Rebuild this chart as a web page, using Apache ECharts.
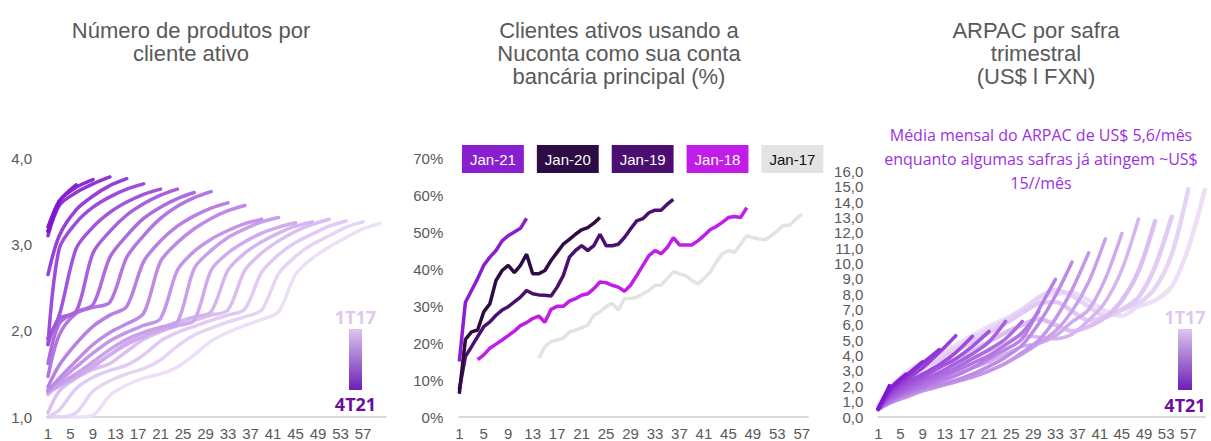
<!DOCTYPE html>
<html><head><meta charset="utf-8">
<script src="https://cdn.jsdelivr.net/npm/echarts@6/dist/echarts.min.js"></script>
<style>html,body{margin:0;padding:0;background:#fff}#c{width:1211px;height:441px}</style>
</head><body><div id="c"></div>
<script>
// ---------- shared ----------
const cohorts = ['1T17','2T17','3T17','4T17','1T18','2T18','3T18','4T18','1T19','2T19','3T19','4T19','1T20','2T20','3T20','4T20','1T21','2T21','3T21','4T21'];
const sampleMonths = [1,3,6,9,12,15,18,21,24,27,30,33,36,39,42,45,48,51,54,57,60];

// ---------- panel 1: products per active client ----------
const prod_1T17 = [1.0,1.0,1.0,1.02,1.25,1.37,1.45,1.5,1.58,1.72,1.88,1.98,2.06,2.13,2.22,2.65,2.84,2.97,3.08,3.18,3.24];
const prod_2T17 = [1.0,1.0,1.05,1.3,1.42,1.5,1.56,1.66,1.82,1.95,2.03,2.1,2.16,2.24,2.66,2.86,3.0,3.1,3.2,3.26];
const prod_3T17 = [1.0,1.08,1.33,1.46,1.54,1.6,1.72,1.88,1.98,2.05,2.12,2.18,2.25,2.68,2.88,3.02,3.12,3.21,3.27];
const prod_4T17 = [1.05,1.3,1.45,1.55,1.62,1.76,1.9,1.99,2.06,2.12,2.18,2.24,2.7,2.9,3.04,3.15,3.23,3.29];
const prod_1T18 = [1.26,1.38,1.5,1.6,1.72,1.86,1.96,2.03,2.1,2.16,2.22,2.7,2.9,3.03,3.13,3.21,3.26];
const prod_2T18 = [1.28,1.36,1.46,1.58,1.72,1.84,1.93,2.0,2.06,2.12,2.7,2.9,3.03,3.13,3.2,3.25];
const prod_3T18 = [1.3,1.38,1.5,1.64,1.78,1.9,1.98,2.04,2.1,2.72,2.93,3.08,3.18,3.26,3.31];
const prod_4T18 = [1.32,1.42,1.58,1.74,1.88,1.98,2.06,2.14,2.7,2.92,3.06,3.16,3.24,3.29];
const prod_1T19 = [1.3,1.45,1.65,1.84,1.98,2.08,2.2,2.8,3.02,3.18,3.3,3.39,3.45];
const prod_2T19 = [1.35,1.6,1.85,2.05,2.18,2.28,2.8,3.04,3.21,3.33,3.42,3.48];
const prod_3T19 = [1.47,1.95,2.2,2.27,2.33,2.85,3.1,3.3,3.44,3.54,3.61];
const prod_4T19 = [1.62,2.08,2.22,2.3,2.85,3.1,3.3,3.43,3.53,3.6];
const prod_1T20 = [1.84,2.14,2.22,2.9,3.15,3.34,3.47,3.57,3.64];
const prod_2T20 = [1.91,2.18,2.95,3.2,3.37,3.49,3.58,3.64];
const prod_3T20 = [1.84,2.95,3.25,3.43,3.55,3.64,3.7];
const prod_4T20 = [2.65,3.1,3.4,3.56,3.68,3.76];
const prod_1T21 = [3.1,3.45,3.6,3.7,3.78];
const prod_2T21 = [3.15,3.5,3.66,3.75];
const prod_3T21 = [3.2,3.5,3.69];
const prod_4T21 = [3.15,3.5];

// ---------- panel 2: Nuconta as main account (%) ----------
const p2Names = ['Jan-17','Jan-18','Jan-19','Jan-20','Jan-21'];
const p2Legend = ['Jan-21','Jan-20','Jan-19','Jan-18','Jan-17'];
const nu_Jan21 = [15,31,34.2,37.4,41,43.2,45,47.6,49,50,51,53.7];
const nu_Jan20 = [6.3,21,23,23.5,28.4,30.6,36.9,39.6,41,39,41,44,38.7,38.7,39.6,42.3,44.5,46.7,48,49.4,50.6,51.2,52.4,53.9];
const nu_Jan19 = [7.4,16.4,19,21.7,24.4,25.7,27.5,28.9,29.8,31.1,32.4,34.2,33.3,33,32.9,32.7,35.1,38.2,43.2,45,46.3,45,46.3,49.4,46.3,46.3,46.7,48.5,50.8,53,53.6,55.2,55.9,55.9,57.5,58.8];
const nu_Jan18 = [null,null,null,15.5,16.8,18.6,19.7,20.8,22,23.2,24.7,25.5,26.6,27.3,25.6,29.1,29.9,29.9,31.3,32,32.9,33.3,34.7,36.5,36.3,35.6,35.1,34,35.6,38.2,40.9,43.6,45,44.1,45.8,48.5,46.5,46.5,46.5,47.6,49,50.6,51.5,52.6,53.9,54.2,53.9,56.6];
const nu_Jan17 = [null,null,null,null,null,null,null,null,null,null,null,null,null,15.9,19,20.4,20.8,21.3,23,23.5,24.1,24.8,27.5,28.4,29.8,30.7,28.9,32,32,32.4,33.3,34.2,35.6,35.7,37.4,39.3,38.7,38.2,36.9,36,37.4,39.1,41.8,44.1,45,44.5,46.7,49,48.5,48.1,47.9,49,50.3,51.8,51.8,53.4,54.8];
const p2Colors = {'Jan-21':'#8a1fd0','Jan-20':'#2d0b45','Jan-19':'#4b0f72','Jan-18':'#c21ce8','Jan-17':'#e3e3e3'};

// ---------- panel 3: ARPAC per quarterly cohort ----------
const arpac_1T17 = [0.8,1.8,2.9,3.6,4.1,4.7,5.3,5.9,6.4,7.0,7.7,8.0,8.1,7.6,6.9,6.6,7.2,7.6,8.5,11.0,14.8];
const arpac_2T17 = [0.7,1.6,2.7,3.4,3.9,4.5,5.1,5.7,6.3,7.0,7.8,8.3,7.9,7.2,6.6,7.0,7.4,8.4,10.6,14.85];
const arpac_3T17 = [0.7,1.5,2.5,3.2,3.7,4.3,4.9,5.5,6.1,6.8,7.4,7.5,6.9,6.3,6.5,7.0,7.8,9.8,13.05];
const arpac_4T17 = [0.6,1.3,2.2,2.8,3.3,3.8,4.3,4.9,5.5,6.0,6.4,6.0,5.6,5.9,6.5,7.6,9.5,12.77];
const arpac_1T18 = [0.6,1.1,1.8,2.4,2.9,3.3,3.8,4.3,4.8,5.3,5.2,5.1,5.4,6.3,7.5,9.6,12.9];
const arpac_2T18 = [0.5,1.0,1.5,2.0,2.4,2.8,3.2,3.6,4.1,4.6,4.8,5.3,6.2,7.0,9.0,11.96];
const arpac_3T18 = [0.5,0.9,1.3,1.7,2.0,2.3,2.6,3.0,3.5,4.1,4.8,5.6,6.9,8.8,11.6];
const arpac_4T18 = [0.5,0.9,1.3,1.7,2.0,2.3,2.6,3.0,3.5,4.2,5.0,6.4,8.3,10.7];
const arpac_1T19 = [0.5,0.9,1.4,1.8,2.1,2.4,2.8,3.3,3.9,4.7,6.1,7.9,10.1];
const arpac_2T19 = [0.5,1.0,1.5,1.9,2.3,2.7,3.2,3.8,4.4,5.1,7.0,8.97];
const arpac_3T19 = [0.5,1.0,1.6,2.0,2.5,3.0,3.5,4.0,4.7,5.5,6.87];
const arpac_4T19 = [0.5,1.1,1.7,2.2,2.7,3.2,3.8,4.4,5.1,6.23];
const arpac_1T20 = [0.5,1.2,1.8,2.4,2.9,3.5,4.1,4.9,6.23];
const arpac_2T20 = [0.5,1.3,2.0,2.6,3.2,3.8,4.6,5.58];
const arpac_3T20 = [0.5,1.4,2.2,2.8,3.4,4.2,5.26];
const arpac_4T20 = [0.5,1.5,2.4,3.2,4.2,5.3];
const arpac_1T21 = [0.5,1.6,2.6,3.5,4.4];
const arpac_2T21 = [0.5,1.7,2.7,3.6];
const arpac_3T21 = [0.55,1.8,2.79];
const arpac_4T21 = [0.55,2.04];

// tick labels
const yTicksP1 = [1,2,3,4];
const yTicksP3 = [0,16];
const catsP1 = Array.from({length:61},(_,i)=>String(i+1));
const catsP2 = Array.from({length:58},(_,i)=>String(i+1));
const catsP3 = Array.from({length:60},(_,i)=>String(i+1));

const prodList = [prod_1T17,prod_2T17,prod_3T17,prod_4T17,prod_1T18,prod_2T18,prod_3T18,prod_4T18,prod_1T19,prod_2T19,prod_3T19,prod_4T19,prod_1T20,prod_2T20,prod_3T20,prod_4T20,prod_1T21,prod_2T21,prod_3T21,prod_4T21];
const arpacList = [arpac_1T17,arpac_2T17,arpac_3T17,arpac_4T17,arpac_1T18,arpac_2T18,arpac_3T18,arpac_4T18,arpac_1T19,arpac_2T19,arpac_3T19,arpac_4T19,arpac_1T20,arpac_2T20,arpac_3T20,arpac_4T20,arpac_1T21,arpac_2T21,arpac_3T21,arpac_4T21];
const nuMap = {'Jan-21':nu_Jan21,'Jan-20':nu_Jan20,'Jan-19':nu_Jan19,'Jan-18':nu_Jan18,'Jan-17':nu_Jan17};

// ---------- styling helpers ----------
const FONT = '"Liberation Sans", Arial, sans-serif';
const GRAY = '#595959';
const light = [236,223,247], dark = [127,22,207];
function cohortColor(k){
  const t = k/19;
  const c = light.map((v,i)=>Math.round(v+(dark[i]-v)*t));
  return 'rgb('+c.join(',')+')';
}
function pairs(vals){ return vals.map((v,i)=>[sampleMonths[i]-1, v]); }

const series = [];
prodList.forEach((vals,k)=>{
  series.push({name:cohorts[k], type:'line', xAxisIndex:0, yAxisIndex:0, data:pairs(vals),
    symbol:'none', smooth:0.3, silent:true, lineStyle:{width:3.5, color:cohortColor(k), cap:'round', join:'round'}});
});
p2Names.forEach(n=>{
  series.push({name:n, type:'line', xAxisIndex:1, yAxisIndex:1, data:nuMap[n],
    symbol:'none', silent:true, connectNulls:false, color:p2Colors[n], lineStyle:{width:3.5, color:p2Colors[n]}});
});
arpacList.forEach((vals,k)=>{
  series.push({name:'ARPAC '+cohorts[k], type:'line', xAxisIndex:2, yAxisIndex:2, data:pairs(vals),
    symbol:'none', smooth:0.3, silent:true, lineStyle:{width:k<4?4.5:3.5, color:cohortColor(k), cap:'round', join:'round'}});
});

function xAxis(grid, cats, interval){
  return {type:'category', gridIndex:grid, data:cats, boundaryGap:false,
    axisLine:{lineStyle:{color:'#d9d9d9', width:2}}, axisTick:{show:false}, splitLine:{show:false},
    axisLabel:{interval:interval, color:GRAY, fontSize:15, fontFamily:FONT, margin:9}};
}
const comma = v => v.toFixed(1).replace('.', ',');

const legendStyle = {fontSize:15, fontFamily:FONT, lineHeight:16, padding:[6,8,6,8]};
const option = {
  animation:false,
  backgroundColor:'#fff',
  grid:[
    {left:48, top:158, width:337.5, height:261},
    {left:459.3, top:158, width:348.6, height:261},
    {left:878.3, top:171.5, width:326.6, height:248.5}
  ],
  xAxis:[
    xAxis(0, catsP1, (i)=> i%4===0 && i<=56),
    xAxis(1, catsP2, 3),
    xAxis(2, catsP3, 3)
  ],
  yAxis:[
    {type:'value', gridIndex:0, min:yTicksP1[0], max:yTicksP1[3], interval:1, axisLine:{show:false}, axisTick:{show:false}, splitLine:{show:false},
      axisLabel:{formatter:comma, color:GRAY, fontSize:15, fontFamily:FONT, margin:16}},
    {type:'value', gridIndex:1, min:0, max:70, interval:10, axisLine:{show:false}, axisTick:{show:false}, splitLine:{show:false},
      axisLabel:{formatter:'{value}%', color:GRAY, fontSize:15, fontFamily:FONT, margin:16}},
    {type:'value', gridIndex:2, min:yTicksP3[0], max:yTicksP3[1], interval:1, axisLine:{show:false}, axisTick:{show:false}, splitLine:{show:false},
      axisLabel:{formatter:comma, color:GRAY, fontSize:15, fontFamily:FONT, margin:15}}
  ],
  legend:{left:457, top:145, padding:0, itemGap:8, itemWidth:0, itemHeight:0, icon:'rect', selectedMode:false,
    textStyle:legendStyle,
    data:p2Legend.map(n=>({name:n, textStyle:{backgroundColor:p2Colors[n], color:n==='Jan-17'?'#111':'#fff'}}))},
  graphic:[
    {type:'text', silent:true, style:{text:'Número de produtos por\ncliente ativo', x:191, y:19, align:'center', textAlign:'center', verticalAlign:'top', textVerticalAlign:'top', fontSize:22, fontFamily:FONT, lineHeight:23, fill:GRAY}},
    {type:'text', silent:true, style:{text:'Clientes ativos usando a\nNuconta como sua conta\nbancária principal (%)', x:619, y:19, align:'center', textAlign:'center', verticalAlign:'top', textVerticalAlign:'top', fontSize:22, fontFamily:FONT, lineHeight:23, fill:GRAY}},
    {type:'text', silent:true, style:{text:'ARPAC por safra\ntrimestral\n(US$ l FXN)', x:1036, y:19, align:'center', textAlign:'center', verticalAlign:'top', textVerticalAlign:'top', fontSize:22, fontFamily:FONT, lineHeight:23, fill:GRAY}},
    {type:'text', silent:true, style:{text:'Média mensal do ARPAC de US$ 5,6/mês\nenquanto algumas safras já atingem ~US$\n15//mês', x:1041, y:123, align:'center', textAlign:'center', verticalAlign:'top', textVerticalAlign:'top', fontSize:16, fontFamily:'"Open Sans", "Noto Sans", sans-serif', lineHeight:24, fill:'#9b32e3'}},
    // gradient legend panel 1
    {type:'rect', silent:true, shape:{x:349, y:329, width:13, height:61}, style:{fill:{type:'linear', x:0, y:0, x2:0, y2:1, colorStops:[{offset:0,color:'#dcc6ee'},{offset:1,color:'#6d1fb6'}]}}},
    {type:'text', silent:true, style:{text:'1T17', x:355.5, y:317, align:'center', textAlign:'center', verticalAlign:'middle', textVerticalAlign:'middle', fontSize:18, fontWeight:'bold', fontFamily:'"Open Sans", sans-serif', fill:'#dfc8ef'}},
    {type:'text', silent:true, style:{text:'4T21', x:355.5, y:404, align:'center', textAlign:'center', verticalAlign:'middle', textVerticalAlign:'middle', fontSize:18, fontWeight:'bold', fontFamily:'"Open Sans", sans-serif', fill:'#6a0f9f'}},
    // gradient legend panel 3
    {type:'rect', silent:true, shape:{x:1178, y:329, width:14, height:61}, style:{fill:{type:'linear', x:0, y:0, x2:0, y2:1, colorStops:[{offset:0,color:'#dcc6ee'},{offset:1,color:'#6d1fb6'}]}}},
    {type:'text', silent:true, style:{text:'1T17', x:1185, y:317, align:'center', textAlign:'center', verticalAlign:'middle', textVerticalAlign:'middle', fontSize:18, fontWeight:'bold', fontFamily:'"Open Sans", sans-serif', fill:'#dfc8ef'}},
    {type:'text', silent:true, style:{text:'4T21', x:1185, y:405, align:'center', textAlign:'center', verticalAlign:'middle', textVerticalAlign:'middle', fontSize:18, fontWeight:'bold', fontFamily:'"Open Sans", sans-serif', fill:'#6a0f9f'}}
  ],
  series:series
};
const chart = echarts.init(document.getElementById('c'), null, {renderer:'svg'});
chart.setOption(option);
</script>
</body></html>
